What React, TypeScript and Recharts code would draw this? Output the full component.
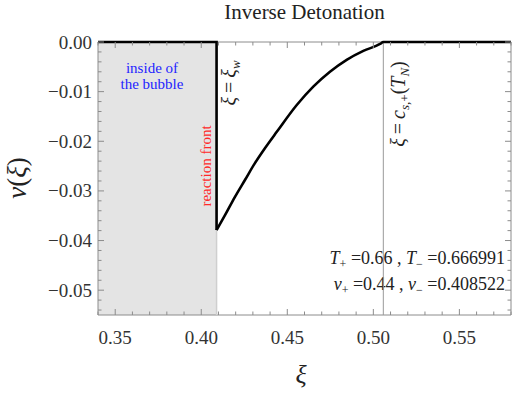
import { ComposedChart, Line, XAxis, YAxis, ReferenceArea, ReferenceLine } from 'recharts';

// wall position and sound speed
const xiWall = 0.4089;
const xiSound = 0.5058;
const vJump = -0.0379;

// flat part inside the bubble plus the jump at the wall
const jumpXi = [0.34, xiWall, xiWall];
const jumpV = [0, 0, vJump];

// fluid velocity profile v(xi) behind the wall
const profileXi = [xiWall, 0.4138, 0.4196, 0.4254, 0.4312, 0.437, 0.4439, 0.4555, 0.4651, 0.4748, 0.4845, 0.4942, 0.5039, xiSound, 0.58];
const profileV = [vJump, -0.0349, -0.0312, -0.0278, -0.0244, -0.0214, -0.0181, -0.0127, -0.009, -0.006, -0.0036, -0.0018, -0.0004, 0, 0];

const xMajorTicks = [0.35, 0.4, 0.45, 0.5, 0.55];
const xMajorLabels = ['0.35', '0.40', '0.45', '0.50', '0.55'];
const xMinorTicks = [0.34, 0.36, 0.37, 0.38, 0.39, 0.41, 0.42, 0.43, 0.44, 0.46, 0.47, 0.48, 0.49, 0.51, 0.52, 0.53, 0.54, 0.56, 0.57, 0.58];

const yMajorTicks = [0, -0.01, -0.02, -0.03, -0.04, -0.05];
const yMajorLabels = ['0.00', '\u22120.01', '\u22120.02', '\u22120.03', '\u22120.04', '\u22120.05'];
const yMinorTicks = [
  -0.002, -0.004, -0.006, -0.008, -0.012, -0.014, -0.016, -0.018, -0.022, -0.024, -0.026, -0.028,
  -0.032, -0.034, -0.036, -0.038, -0.042, -0.044, -0.046, -0.048, -0.052, -0.054,
];

const jumpData = jumpXi.map((xi, i) => ({ xi, v: jumpV[i] }));
const profileData = profileXi.map((xi, i) => ({ xi, v: profileV[i] }));

const W = 513;
const H = 393;
const PLOT_W = 413;
const PLOT_H = 273;
const serif = '"Liberation Serif", "DejaVu Serif", serif';
const frameColor = '#8c8c8c';

function XTick(props: any) {
  const { x, y, payload } = props;
  const idx = xMajorTicks.findIndex((t) => Math.abs(t - payload.value) < 1e-9);
  const len = idx >= 0 ? 6 : 3.5;
  return (
    <g>
      <line x1={x} y1={y} x2={x} y2={y - len} stroke={frameColor} />
      <line x1={x} y1={y - PLOT_H} x2={x} y2={y - PLOT_H + len} stroke={frameColor} />
      {idx >= 0 && (
        <text x={x} y={y + 29} textAnchor="middle" fontFamily={serif} fontSize={19} fill="#333">
          {xMajorLabels[idx]}
        </text>
      )}
    </g>
  );
}

function YTick(props: any) {
  const { x, y, payload } = props;
  const idx = yMajorTicks.findIndex((t) => Math.abs(t - payload.value) < 1e-9);
  const len = idx >= 0 ? 6 : 3.5;
  return (
    <g>
      <line x1={x} y1={y} x2={x + len} y2={y} stroke={frameColor} />
      <line x1={x + PLOT_W} y1={y} x2={x + PLOT_W - len} y2={y} stroke={frameColor} />
      {idx >= 0 && (
        <text x={x - 6} y={y + 6.5} textAnchor="end" fontFamily={serif} fontSize={19} fill="#333">
          {yMajorLabels[idx]}
        </text>
      )}
    </g>
  );
}

const sub = (s: string) => (
  <tspan fontSize={12} dy={4}>
    {s}
  </tspan>
);

export default function App() {
  return (
    <div style={{ position: 'absolute', left: 0, top: 0, width: W, height: H, background: '#fff' }}>
      <ComposedChart width={W} height={H} margin={{ top: 42, right: 2, bottom: 0, left: 0 }}>
        <XAxis
          dataKey="xi"
          type="number"
          domain={[0.34, 0.58]}
          ticks={[...xMinorTicks, ...xMajorTicks]}
          interval={0}
          tickSize={0}
          tickMargin={0}
          axisLine={false}
          tickLine={false}
          tick={XTick}
          height={78}
          label={(p: any) => (
            <text x={301} y={383} textAnchor="middle" fontFamily={serif} fontStyle="italic" fontSize={26} fill="#222">
              ξ
            </text>
          )}
        />
        <YAxis
          type="number"
          domain={[-0.055, 0]}
          ticks={[...yMinorTicks, ...yMajorTicks]}
          interval={0}
          tickSize={0}
          tickMargin={0}
          axisLine={false}
          tickLine={false}
          tick={YTick}
          width={98}
          label={(p: any) => (
            <text
              x={26}
              y={178}
              transform="rotate(-90 26 178)"
              textAnchor="middle"
              fontFamily={serif}
              fontSize={27}
              fill="#222"
            >
              <tspan fontStyle="italic">v</tspan>(<tspan fontStyle="italic">ξ</tspan>)
            </text>
          )}
        />
        <ReferenceArea
          x1={0.34}
          x2={xiWall}
          y1={-0.055}
          y2={0}
          fill="#e4e4e4"
          fillOpacity={1}
          stroke="none"
          label={(p: any) => {
            const vb = p.viewBox;
            const cx = vb.x + 54;
            return (
              <text textAnchor="middle" fontFamily={serif} fontSize={15} fill="#1f1fff">
                <tspan x={cx} y={vb.y + 31}>inside of</tspan>
                <tspan x={cx} y={vb.y + 47}>the bubble</tspan>
              </text>
            );
          }}
        />
        <ReferenceLine
          x={xiWall}
          stroke="#cfcfcf"
          strokeWidth={1.5}
          label={(p: any) => {
            const vb = p.viewBox;
            const rx = vb.x - 6;
            const ry = 166;
            const lx = vb.x + 19;
            const ly = 83;
            return (
              <g>
                <text
                  x={rx}
                  y={ry}
                  transform={`rotate(-90 ${rx} ${ry})`}
                  textAnchor="middle"
                  fontFamily={serif}
                  fontSize={15}
                  fill="#ff2a2a"
                >
                  reaction front
                </text>
                <text
                  x={lx}
                  y={ly}
                  transform={`rotate(-90 ${lx} ${ly})`}
                  textAnchor="middle"
                  fontFamily={serif}
                  fontSize={20}
                  fill="#222"
                >
                  <tspan fontStyle="italic">ξ</tspan>{'\u2009=\u2009'}<tspan fontStyle="italic">ξ</tspan>
                  <tspan fontSize={13} fontStyle="italic" dy={4}>w</tspan>
                </text>
              </g>
            );
          }}
        />
        <ReferenceLine
          x={xiSound}
          stroke="#9a9a9a"
          strokeWidth={1}
          label={(p: any) => {
            const vb = p.viewBox;
            const lx = vb.x + 22;
            const ly = 104;
            return (
              <text
                x={lx}
                y={ly}
                transform={`rotate(-90 ${lx} ${ly})`}
                textAnchor="middle"
                fontFamily={serif}
                fontSize={20}
                fill="#222"
              >
                <tspan fontStyle="italic">ξ</tspan>{'\u2009=\u2009'}<tspan fontStyle="italic">c</tspan>
                <tspan fontSize={13} dy={4}>
                  <tspan fontStyle="italic">s</tspan>,+
                </tspan>
                <tspan dy={-4}>(</tspan>
                <tspan fontStyle="italic">T</tspan>
                <tspan fontSize={13} fontStyle="italic" dy={4}>N</tspan>
                <tspan dy={-4}>)</tspan>
              </text>
            );
          }}
        />
        <ReferenceArea
          x1={0.34}
          x2={0.58}
          y1={-0.055}
          y2={0}
          fill="none"
          fillOpacity={0}
          stroke={frameColor}
          strokeWidth={1}
          label={(p: any) => {
            const vb = p.viewBox;
            const rx = vb.x + vb.width - 6;
            const by = vb.y + vb.height;
            return (
              <g fontFamily={serif} fill="#222">
                <text x={vb.x + vb.width / 2} y={vb.y - 23} textAnchor="middle" fontSize={21}>
                  Inverse Detonation
                </text>
                <text x={rx} y={by - 51} textAnchor="end" fontSize={18}>
                  <tspan fontStyle="italic">T</tspan>
                  {sub('+')}
                  <tspan dy={-4}> =0.66 , </tspan>
                  <tspan fontStyle="italic">T</tspan>
                  {sub('\u2212')}
                  <tspan dy={-4}> =0.666991</tspan>
                </text>
                <text x={rx} y={by - 25} textAnchor="end" fontSize={18}>
                  <tspan fontStyle="italic">v</tspan>
                  {sub('+')}
                  <tspan dy={-4}> =0.44 , </tspan>
                  <tspan fontStyle="italic">v</tspan>
                  {sub('\u2212')}
                  <tspan dy={-4}> =0.408522</tspan>
                </text>
              </g>
            );
          }}
        />
        <Line
          data={jumpData}
          dataKey="v"
          type="linear"
          stroke="#000"
          strokeWidth={2.6}
          dot={false}
          activeDot={false}
          isAnimationActive={false}
        />
        <Line
          data={profileData}
          dataKey="v"
          type="monotoneX"
          stroke="#000"
          strokeWidth={2.6}
          dot={false}
          activeDot={false}
          isAnimationActive={false}
        />
      </ComposedChart>
    </div>
  );
}
